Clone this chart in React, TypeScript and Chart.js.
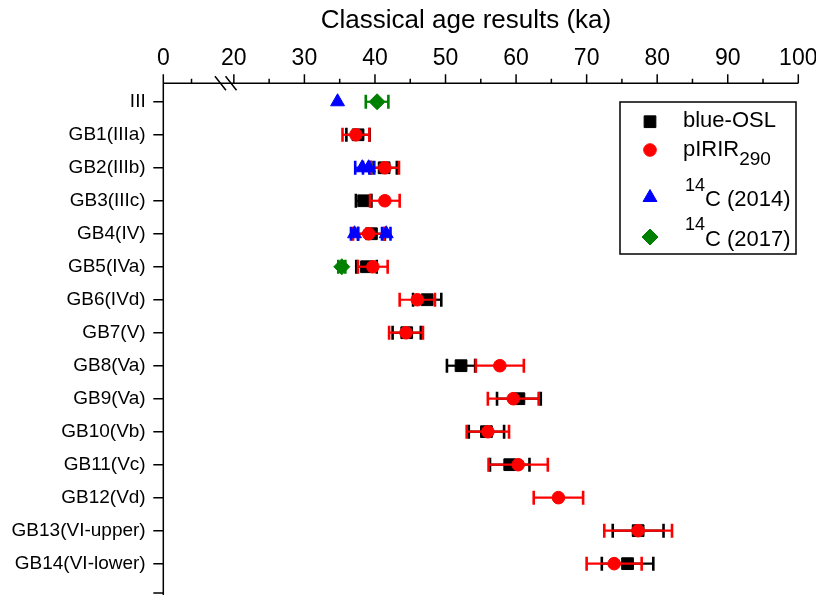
import React, { useEffect, useRef } from "react";
import { Chart, registerables } from "chart.js";
import { drawPoint } from "chart.js/helpers";

Chart.register(...registerables);

const FONT = '"Liberation Sans", Arial, Helvetica, sans-serif';

// ---------- data ----------
const categories = [
  "III", "GB1(IIIa)", "GB2(IIIb)", "GB3(IIIc)", "GB4(IV)", "GB5(IVa)", "GB6(IVd)",
  "GB7(V)", "GB8(Va)", "GB9(Va)", "GB10(Vb)", "GB11(Vc)", "GB12(Vd)",
  "GB13(VI-upper)", "GB14(VI-lower)",
];

const oslAges = [null, 37.6, 41.3, 38.4, 39.5, 38.8, 47.4, 44.5, 52.2, 60.4, 55.8, 59.1, null, 77.3, 75.8];
const oslErr = [null, 1.65, 1.8, 1.1, 1.9, 1.45, 2.0, 2.0, 2.0, 3.1, 2.5, 2.8, null, 3.6, 3.65];

const irAges = [null, 37.3, 41.4, 41.4, 39.1, 39.7, 46.0, 44.4, 57.7, 59.6, 56.0, 60.3, 66.0, 77.3, 73.9];
const irErr = [null, 1.9, 2.0, 2.1, 2.2, 2.1, 2.5, 2.4, 3.4, 3.6, 3.0, 4.2, 3.5, 4.8, 3.9];

const c14aRows = [0, 2, 2, 4, 4];
const c14aAges = [34.7, 38.2, 39.1, 37.1, 41.6];
const c14aErr = [0, 1.0, 0.8, 0.5, 0.6];

const c14bRows = [0, 5];
const c14bAges = [40.3, 35.3];
const c14bErr = [1.6, 0.5];

// x axis: value 10 stands for the "0" before the axis break
const xMin = 10;
const xMax = 100;
const xTickValues = [10, 20, 30, 40, 50, 60, 70, 80, 90, 100];
const xTickLabels = ["0", "20", "30", "40", "50", "60", "70", "80", "90", "100"];
const xMinorTicks = [14, 25, 35, 45, 55, 65, 75, 85, 95];
const xBreakMarks = [18.1, 19.6];
const axisTitle = "Classical age results (ka)";

const yMin = -0.56;
const yMax = 14.95;

// plot frame (layout only)
const AREA = { left: 163.3, right: 798.3, top: 83.3, bottom: 595 };

function seriesFrom(ages: (number | null)[], errs: (number | null)[]) {
  const pts: { x: number; y: number }[] = [];
  const e: number[] = [];
  ages.forEach((a, i) => {
    if (a !== null) {
      pts.push({ x: a, y: i });
      e.push(errs[i] as number);
    }
  });
  return { pts, e };
}

function seriesRows(rows: number[], ages: number[], errs: number[]) {
  return { pts: rows.map((r, i) => ({ x: ages[i], y: r })), e: errs.slice() };
}

const framePlugin = {
  id: "frame",
  afterLayout(chart: any) {
    const ca = chart.chartArea;
    ca.left = AREA.left;
    ca.right = AREA.right;
    ca.top = AREA.top;
    ca.bottom = AREA.bottom;
    ca.width = AREA.right - AREA.left;
    ca.height = AREA.bottom - AREA.top;
    const xs = chart.scales.x;
    xs.left = AREA.left;
    xs.right = AREA.right;
    xs.width = AREA.right - AREA.left;
    xs.top = 0;
    xs.bottom = AREA.top;
    xs.height = AREA.top;
    xs.configure();
    const ys = chart.scales.y;
    ys.left = 0;
    ys.right = AREA.left;
    ys.width = AREA.left;
    ys.top = AREA.top;
    ys.bottom = AREA.bottom;
    ys.height = AREA.bottom - AREA.top;
    ys.configure();
  },
};

const errorBarPlugin = {
  id: "errorBars",
  beforeDatasetDraw(chart: any, args: any) {
    const ds = chart.data.datasets[args.index];
    const errs = ds.errors;
    if (!errs) return;
    const xs = chart.scales.x;
    const ys = chart.scales.y;
    const ctx = chart.ctx;
    ctx.save();
    ctx.strokeStyle = ds.errColor;
    ds.data.forEach((p: any, i: number) => {
      const e = errs[i];
      if (!e) return;
      const y = ys.getPixelForValue(p.y);
      const x1 = xs.getPixelForValue(p.x - e);
      const x2 = xs.getPixelForValue(p.x + e);
      ctx.lineWidth = 2.2;
      ctx.beginPath();
      ctx.moveTo(x1, y);
      ctx.lineTo(x2, y);
      ctx.stroke();
      ctx.lineWidth = 2.6;
      ctx.beginPath();
      ctx.moveTo(x1, y - 7);
      ctx.lineTo(x1, y + 7);
      ctx.moveTo(x2, y - 7);
      ctx.lineTo(x2, y + 7);
      ctx.stroke();
    });
    ctx.restore();
  },
};

function drawRich(ctx: CanvasRenderingContext2D, parts: { t: string; size: number; y: number }[], x: number) {
  let cx = x;
  parts.forEach((p) => {
    ctx.font = `${p.size}px ${FONT}`;
    ctx.textBaseline = "middle";
    ctx.textAlign = "left";
    ctx.fillText(p.t, cx, p.y);
    cx += ctx.measureText(p.t).width;
  });
}

const decorPlugin = {
  id: "decor",
  afterDraw(chart: any) {
    const ctx = chart.ctx as CanvasRenderingContext2D;
    const xs = chart.scales.x;
    const ys = chart.scales.y;
    const { left, right, top, bottom } = chart.chartArea;
    ctx.save();
    ctx.strokeStyle = "#000";
    ctx.fillStyle = "#000";
    ctx.lineWidth = 1.5;
    // axis lines
    ctx.beginPath();
    ctx.moveTo(left, top);
    ctx.lineTo(right, top);
    ctx.moveTo(left, top);
    ctx.lineTo(left, bottom);
    ctx.stroke();
    // x ticks
    ctx.beginPath();
    xTickValues.forEach((v) => {
      const px = xs.getPixelForValue(v);
      ctx.moveTo(px, top);
      ctx.lineTo(px, top - 9);
    });
    xMinorTicks.forEach((v) => {
      const px = xs.getPixelForValue(v);
      ctx.moveTo(px, top);
      ctx.lineTo(px, top - 4.5);
    });
    // y ticks
    categories.forEach((_, i) => {
      const py = ys.getPixelForValue(i);
      ctx.moveTo(left, py);
      ctx.lineTo(left - 10, py);
    });
    ctx.moveTo(left, bottom - 2);
    ctx.lineTo(left - 10, bottom - 2);
    ctx.stroke();
    // axis break
    ctx.lineWidth = 1.5;
    ctx.beginPath();
    xBreakMarks.forEach((v) => {
      const px = xs.getPixelForValue(v);
      ctx.moveTo(px - 5.5, top - 7);
      ctx.lineTo(px + 5.5, top + 7);
    });
    ctx.stroke();
    // axis title
    ctx.font = `26px ${FONT}`;
    ctx.textAlign = "center";
    ctx.textBaseline = "middle";
    ctx.fillText(axisTitle, 466, 21);

    // legend
    ctx.lineWidth = 1.5;
    ctx.strokeRect(620, 102, 176, 152);
    const mx = 650;
    const tx = 683;
    const items = [
      { style: "rect", r: 8.3, color: "#000000", y: 121.7 },
      { style: "circle", r: 6.3, color: "#ff0000", y: 150 },
      { style: "triangle", r: 8, color: "#0000ff", y: 197.5 },
      { style: "rectRot", r: 8, color: "#008000", y: 237 },
    ];
    items.forEach((it) => {
      ctx.fillStyle = it.color;
      ctx.strokeStyle = it.color;
      ctx.lineWidth = 1;
      drawPoint(ctx, { pointStyle: it.style as any, radius: it.r, rotation: 0, borderWidth: 1 } as any, mx, it.y);
    });
    ctx.fillStyle = "#000";
    drawRich(ctx, [{ t: "blue-OSL", size: 22, y: 121 }], tx);
    drawRich(ctx, [{ t: "pIRIR", size: 22, y: 150 }, { t: "290", size: 19, y: 160 }], tx);
    drawRich(ctx, [{ t: "14", size: 18, y: 186 }, { t: "C (2014)", size: 22, y: 200 }], tx + 2);
    drawRich(ctx, [{ t: "14", size: 18, y: 225 }, { t: "C (2017)", size: 22, y: 240 }], tx + 2);
    ctx.restore();
  },
};

export default function App() {
  const ref = useRef<HTMLCanvasElement | null>(null);
  useEffect(() => {
    if (!ref.current) return;
    const osl = seriesFrom(oslAges, oslErr);
    const ir = seriesFrom(irAges, irErr);
    const ca = seriesRows(c14aRows, c14aAges, c14aErr);
    const cb = seriesRows(c14bRows, c14bAges, c14bErr);
    const chart = new Chart(ref.current, {
      type: "scatter",
      data: {
        datasets: [
          {
            label: "blue-OSL",
            data: osl.pts,
            errors: osl.e,
            errColor: "#000000",
            pointStyle: "rect",
            pointRadius: 8.3,
            backgroundColor: "#000000",
            borderColor: "#000000",
            borderWidth: 1,
            order: 4,
          } as any,
          {
            label: "pIRIR290",
            data: ir.pts,
            errors: ir.e,
            errColor: "#ff0000",
            pointStyle: "circle",
            pointRadius: 6.3,
            backgroundColor: "#ff0000",
            borderColor: "#ff0000",
            borderWidth: 1,
            order: 3,
          } as any,
          {
            label: "14C (2014)",
            data: ca.pts,
            errors: ca.e,
            errColor: "#0000ff",
            pointStyle: "triangle",
            pointRadius: 8,
            backgroundColor: "#0000ff",
            borderColor: "#0000ff",
            borderWidth: 1,
            order: 2,
          } as any,
          {
            label: "14C (2017)",
            data: cb.pts,
            errors: cb.e,
            errColor: "#008000",
            pointStyle: "rectRot",
            pointRadius: 8,
            backgroundColor: "#008000",
            borderColor: "#008000",
            borderWidth: 1,
            order: 1,
          } as any,
        ],
      },
      options: {
        responsive: false,
        animation: false,
        events: [],
        layout: { padding: { left: 0, top: 0, right: 17.7, bottom: 0 } },
        plugins: {
          legend: { display: false },
          tooltip: { enabled: false },
          title: { display: false },
        },
        scales: {
          x: {
            type: "linear",
            position: "top",
            min: xMin,
            max: xMax,
            grid: { display: false },
            border: { display: false },
            afterBuildTicks: (s: any) => {
              s.ticks = xTickValues.map((v) => ({ value: v }));
            },
            ticks: {
              autoSkip: false,
              maxRotation: 0,
              padding: 3,
              color: "#000",
              font: { family: FONT, size: 23 },
              callback: (v: any) => {
                const i = xTickValues.indexOf(Number(v));
                return i >= 0 ? xTickLabels[i] : "";
              },
            },
          },
          y: {
            type: "linear",
            reverse: true,
            min: yMin,
            max: yMax,
            grid: { display: false },
            border: { display: false },
            afterBuildTicks: (s: any) => {
              s.ticks = categories.map((_, i) => ({ value: i }));
            },
            ticks: {
              autoSkip: false,
              padding: 9.6,
              color: "#000",
              font: { family: FONT, size: 19 },
              callback: (v: any) => categories[Number(v)] ?? "",
            },
          },
        },
      },
      plugins: [framePlugin, errorBarPlugin, decorPlugin],
    } as any);
    return () => chart.destroy();
  }, []);
  return (
    <div style={{ position: "fixed", left: 0, top: 0, width: 816, height: 595, background: "#fff" }}>
      <canvas ref={ref} width={816} height={595} style={{ display: "block" }} />
    </div>
  );
}
